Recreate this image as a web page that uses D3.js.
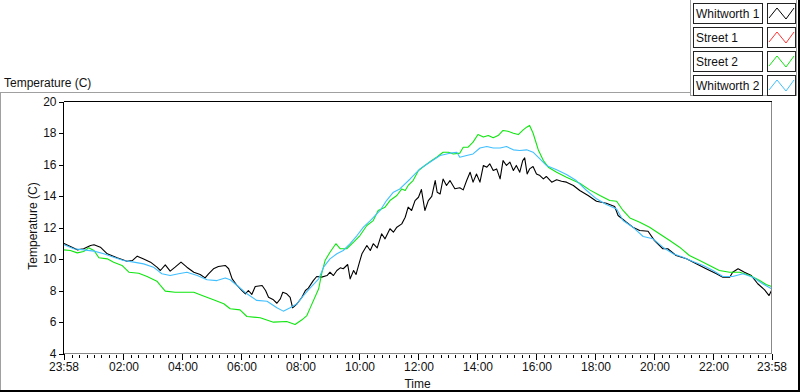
<!DOCTYPE html>
<html>
<head>
<meta charset="utf-8">
<script src="https://cdn.jsdelivr.net/npm/d3@7/dist/d3.min.js"></script>
<style>
    body { margin: 0; background: #fff; }
    svg text { font-family: "Liberation Sans", Arial, sans-serif; fill: #111; }
</style>
</head>
<body>
<svg id="chart" width="800" height="392"></svg>
<script>
// series as [minutes after 23:58, temperature]
var seriesNames = ['Whitworth 1', 'Street 1', 'Street 2', 'Whitworth 2'];
var seriesColors = ['#000000', '#ff3333', '#0fe60f', '#40bfff'];

var whitworth1 = [
    [0, 11.0], [14, 10.79], [28, 10.58], [41, 10.65], [55, 10.86], [62, 10.9], [75, 10.75], [89, 10.33],
    [109, 10.08], [129, 9.86], [140, 9.9], [150, 10.18], [163, 10.0], [177, 9.8], [190, 9.48], [197, 9.27],
    [207, 9.63], [217, 9.23], [227, 9.48], [239, 9.8], [251, 9.48], [265, 9.16], [278, 9.02], [288, 8.8],
    [295, 9.06], [305, 9.38], [315, 9.52], [329, 9.59], [336, 9.38], [343, 8.74], [353, 8.32], [363, 8.0],
    [370, 7.79], [376, 8.0], [383, 7.75], [390, 8.25], [404, 8.32], [411, 8.0], [417, 7.57], [427, 7.41],
    [434, 7.19], [441, 7.47], [446, 7.89], [454, 7.79], [461, 7.57], [466, 6.9], [475, 7.16], [485, 7.57],
    [492, 8.0], [498, 8.15], [508, 8.63], [515, 8.89], [525, 8.85], [536, 8.95], [542, 9.16], [549, 8.95],
    [556, 9.27], [563, 9.44], [569, 9.38], [578, 9.65], [583, 8.74], [590, 9.27], [595, 9.02], [602, 9.8],
    [607, 10.33], [617, 10.86], [624, 10.54], [630, 10.97], [638, 10.71], [647, 11.6], [654, 11.28], [664, 11.92],
    [671, 11.7], [678, 12.02], [688, 12.23], [695, 12.65], [701, 13.29], [708, 13.08], [715, 13.71], [722, 13.92],
    [728, 14.41], [735, 13.08], [742, 13.71], [749, 13.97], [756, 14.98], [760, 14.24], [766, 14.13], [772, 15.08],
    [779, 14.67], [786, 14.98], [796, 14.46], [806, 14.52], [813, 14.39], [820, 14.98], [827, 15.51], [833, 14.88],
    [840, 15.4], [847, 14.88], [854, 15.94], [861, 15.83], [867, 16.04], [874, 15.62], [881, 15.72], [888, 15.09],
    [894, 16.25], [901, 15.94], [908, 16.15], [915, 15.62], [921, 15.94], [928, 15.51], [934, 16.25], [938, 16.42],
    [943, 15.4], [948, 15.72], [955, 15.87], [962, 15.4], [969, 15.3], [976, 15.09], [982, 15.24], [993, 14.88],
    [1003, 15.03], [1013, 14.94], [1023, 14.88], [1037, 14.67], [1050, 14.35], [1067, 14.03], [1084, 13.67], [1104, 13.54],
    [1121, 13.33], [1128, 12.76], [1145, 12.33], [1158, 12.02], [1172, 11.81], [1189, 11.76], [1202, 11.17], [1219, 10.65],
    [1229, 10.65], [1246, 10.22], [1267, 10.01], [1287, 9.7], [1307, 9.38], [1328, 9.06], [1341, 8.84], [1355, 8.84],
    [1361, 9.16], [1372, 9.38], [1385, 9.16], [1399, 8.95], [1412, 8.43], [1426, 8.04], [1435, 7.68], [1440, 8.0]
];

// no readings for Street 1
var street1 = [];

var street2 = [
    [0, 10.58], [14, 10.54], [28, 10.39], [41, 10.48], [51, 10.71], [62, 10.54], [72, 10.08], [89, 10.01],
    [102, 9.8], [119, 9.59], [133, 9.16], [153, 9.1], [170, 8.89], [190, 8.59], [197, 8.32], [207, 7.96],
    [227, 7.89], [248, 7.89], [265, 7.89], [282, 7.68], [305, 7.41], [326, 7.16], [339, 6.84], [359, 6.77],
    [373, 6.35], [400, 6.27], [427, 5.99], [454, 6.03], [471, 5.84], [485, 6.14], [495, 6.41], [500, 6.77],
    [519, 8.11], [525, 9.06], [532, 9.9], [542, 10.43], [549, 10.75], [554, 10.97], [563, 10.65], [576, 10.65],
    [590, 11.07], [603, 11.49], [617, 12.13], [630, 12.44], [640, 13.08], [654, 13.29], [664, 13.71], [678, 14.03],
    [688, 14.45], [695, 14.35], [701, 14.67], [711, 14.98], [722, 15.62], [735, 15.94], [749, 16.25], [759, 16.46],
    [772, 16.78], [783, 16.78], [793, 16.67], [806, 16.72], [813, 17.1], [823, 17.1], [833, 17.42], [843, 17.9],
    [854, 17.74], [864, 17.84], [874, 17.7], [884, 17.84], [894, 18.16], [904, 18.11], [915, 17.99], [925, 17.9],
    [935, 18.2], [942, 18.37], [948, 18.48], [955, 18.0], [962, 17.3], [966, 16.9], [976, 16.25], [986, 15.83],
    [1003, 15.51], [1023, 15.19], [1050, 14.81], [1070, 14.39], [1091, 14.03], [1111, 13.71], [1125, 13.67], [1138, 13.08],
    [1152, 12.61], [1172, 12.34], [1192, 12.02], [1212, 11.6], [1233, 11.17], [1253, 10.75], [1273, 10.22], [1294, 9.9],
    [1314, 9.59], [1334, 9.27], [1355, 9.16], [1375, 9.16], [1396, 8.95], [1416, 8.63], [1429, 8.38], [1440, 8.25]
];

var whitworth2 = [
    [0, 10.92], [21, 10.65], [41, 10.58], [62, 10.5], [82, 10.33], [102, 10.11], [122, 9.9], [143, 9.8],
    [163, 9.69], [183, 9.48], [200, 9.06], [217, 8.95], [234, 9.06], [251, 9.16], [272, 8.95], [292, 8.68],
    [312, 8.63], [329, 8.8], [339, 8.68], [353, 8.32], [373, 7.79], [393, 7.37], [414, 7.32], [434, 6.9],
    [447, 6.69], [461, 6.9], [475, 7.16], [488, 7.68], [500, 8.11], [519, 8.74], [529, 9.48], [542, 10.01],
    [556, 10.33], [569, 10.54], [583, 10.97], [597, 11.49], [610, 12.02], [624, 12.44], [644, 13.08], [657, 13.71],
    [671, 14.24], [684, 14.45], [705, 15.08], [725, 15.72], [745, 16.14], [766, 16.57], [786, 16.72], [800, 16.78],
    [806, 16.46], [820, 16.57], [833, 16.67], [847, 17.05], [861, 17.14], [874, 17.05], [888, 17.05], [901, 17.14],
    [915, 16.93], [928, 16.89], [942, 16.93], [955, 16.78], [969, 16.36], [982, 15.94], [1003, 15.66], [1023, 15.37],
    [1043, 14.98], [1064, 14.35], [1084, 13.82], [1104, 13.46], [1125, 13.18], [1138, 12.44], [1158, 12.02], [1179, 11.43],
    [1199, 11.28], [1219, 10.75], [1240, 10.33], [1260, 10.11], [1280, 9.84], [1301, 9.59], [1321, 9.27], [1341, 8.89],
    [1361, 8.89], [1382, 9.06], [1402, 8.84], [1422, 8.43], [1440, 8.11]
];

var yTicks = [4, 6, 8, 10, 12, 14, 16, 18, 20];
var xTickLabels = ['23:58', '02:00', '04:00', '06:00', '08:00', '10:00', '12:00',
    '14:00', '16:00', '18:00', '20:00', '22:00', '23:58'];

var svg = d3.select('#chart');
var plot = { left: 63.5, top: 101.5, right: 771.5, bottom: 353.5 };

var start = new Date(2020, 0, 1, 23, 58);
var end = d3.timeMinute.offset(start, 1440);
var toDate = function(m) { return d3.timeMinute.offset(start, m); };

var x = d3.scaleTime().domain([start, end]).range([plot.left, plot.right]);
var y = d3.scaleLinear().domain([4, 20]).range([plot.bottom, plot.top]);

// outer panel frame
var frame = svg.append('g').attr('shape-rendering', 'crispEdges');
frame.append('line').attr('x1', 0).attr('x2', 690).attr('y1', 92.5).attr('y2', 92.5).attr('stroke', '#a0a0a0');
frame.append('line').attr('x1', 0.5).attr('x2', 0.5).attr('y1', 92).attr('y2', 391).attr('stroke', '#a0a0a0');
frame.append('line').attr('x1', 690.5).attr('x2', 690.5).attr('y1', 0).attr('y2', 95).attr('stroke', '#a0a0a0');
frame.append('line').attr('x1', 690).attr('x2', 797).attr('y1', 95.5).attr('y2', 95.5).attr('stroke', '#a0a0a0');
frame.append('line').attr('x1', 796.5).attr('x2', 796.5).attr('y1', 0).attr('y2', 95).attr('stroke', '#a0a0a0');
frame.append('rect').attr('x', 798).attr('y', 0).attr('width', 2).attr('height', 392).attr('fill', '#000');
frame.append('rect').attr('x', 0).attr('y', 390).attr('width', 800).attr('height', 2).attr('fill', '#000');

svg.append('text')
    .attr('x', 4).attr('y', 87)
    .style('font-size', '12px')
    .text('Temperature (C)');

// plot area
svg.append('rect')
    .attr('x', plot.left).attr('y', plot.top)
    .attr('width', plot.right - plot.left).attr('height', plot.bottom - plot.top)
    .attr('fill', '#fff');

var line = d3.line()
    .x(function(d) { return x(toDate(d[0])); })
    .y(function(d) { return y(d[1]); });

svg.append('clipPath').attr('id', 'clip').append('rect')
    .attr('x', plot.left).attr('y', plot.top)
    .attr('width', plot.right - plot.left).attr('height', plot.bottom - plot.top);

var lines = svg.append('g').attr('clip-path', 'url(#clip)');
[whitworth1, street1, street2, whitworth2].forEach(function(data, i) {
    if (!data.length) return;
    lines.append('path')
        .datum(data)
        .attr('fill', 'none')
        .attr('stroke', seriesColors[i])
        .attr('stroke-width', 1.1)
        .attr('stroke-linejoin', 'round')
        .attr('d', line);
});

// plot border: black top/left, grey right/bottom
var border = svg.append('g').attr('shape-rendering', 'crispEdges');
border.append('line').attr('x1', plot.left).attr('x2', plot.right).attr('y1', plot.top).attr('y2', plot.top).attr('stroke', '#000');
border.append('line').attr('x1', plot.right).attr('x2', plot.right).attr('y1', plot.top).attr('y2', plot.bottom).attr('stroke', '#888');
border.append('line').attr('x1', plot.left).attr('x2', plot.right).attr('y1', plot.bottom).attr('y2', plot.bottom).attr('stroke', '#888');
border.append('line').attr('x1', plot.left).attr('x2', plot.left).attr('y1', plot.top).attr('y2', plot.bottom + 1).attr('stroke', '#000');

// y axis
var yAxis = svg.append('g')
    .attr('transform', 'translate(' + plot.left + ',0)')
    .attr('shape-rendering', 'crispEdges')
    .call(d3.axisLeft(y).tickValues(yTicks).tickSize(5).tickPadding(2));
yAxis.select('.domain').remove();
yAxis.selectAll('text').style('font-size', '12px').attr('fill', '#111');

svg.append('text')
    .attr('transform', 'translate(37,226) rotate(-90)')
    .attr('text-anchor', 'middle')
    .style('font-size', '12px')
    .text('Temperature (C)');

// x axis: major every 2 hours plus the two end points, minor every 15 min
var majors = [start]
    .concat(d3.timeHour.every(2).range(d3.timeHour.offset(start, 1), end))
    .concat([end]);
var xAxis = svg.append('g')
    .attr('transform', 'translate(0,' + plot.bottom + ')')
    .attr('shape-rendering', 'crispEdges')
    .call(d3.axisBottom(x).tickValues(majors).tickSize(6).tickPadding(3)
        .tickFormat(function(d, i) { return xTickLabels[i]; }));
xAxis.select('.domain').remove();
xAxis.selectAll('text').style('font-size', '12px').attr('fill', '#111');

var minors = d3.timeMinute.every(15).range(start, end).filter(function(d) {
    return d.getMinutes() !== 0 || d.getHours() % 2 !== 0;
});
svg.append('g')
    .attr('shape-rendering', 'crispEdges')
    .selectAll('line')
    .data(minors)
    .enter().append('line')
    .attr('x1', function(d) { return Math.round(x(d)) + 0.5; })
    .attr('x2', function(d) { return Math.round(x(d)) + 0.5; })
    .attr('y1', plot.bottom + 1)
    .attr('y2', plot.bottom + 4)
    .attr('stroke', '#000');

svg.append('text')
    .attr('x', (plot.left + plot.right) / 2).attr('y', 388)
    .attr('text-anchor', 'middle')
    .style('font-size', '12px')
    .text('Time');

// legend
var legend = svg.append('g').selectAll('g')
    .data(seriesNames)
    .enter().append('g')
    .attr('transform', function(d, i) { return 'translate(0,' + (3 + i * 24) + ')'; });

legend.append('rect')
    .attr('x', 693.5).attr('y', 0.5).attr('width', 69).attr('height', 20)
    .attr('fill', '#fff').attr('stroke', '#222').attr('shape-rendering', 'crispEdges');
legend.append('text')
    .attr('x', 696).attr('y', 15)
    .style('font-size', '12px')
    .text(function(d) { return d; });
legend.append('rect')
    .attr('x', 767.5).attr('y', 0.5).attr('width', 28).attr('height', 20)
    .attr('fill', '#fff').attr('stroke', '#222').attr('shape-rendering', 'crispEdges');
legend.append('path')
    .attr('fill', 'none')
    .attr('stroke', function(d, i) { return seriesColors[i]; })
    .attr('d', 'M769,15L777,5L786,16L794,5');
</script>
</body>
</html>
